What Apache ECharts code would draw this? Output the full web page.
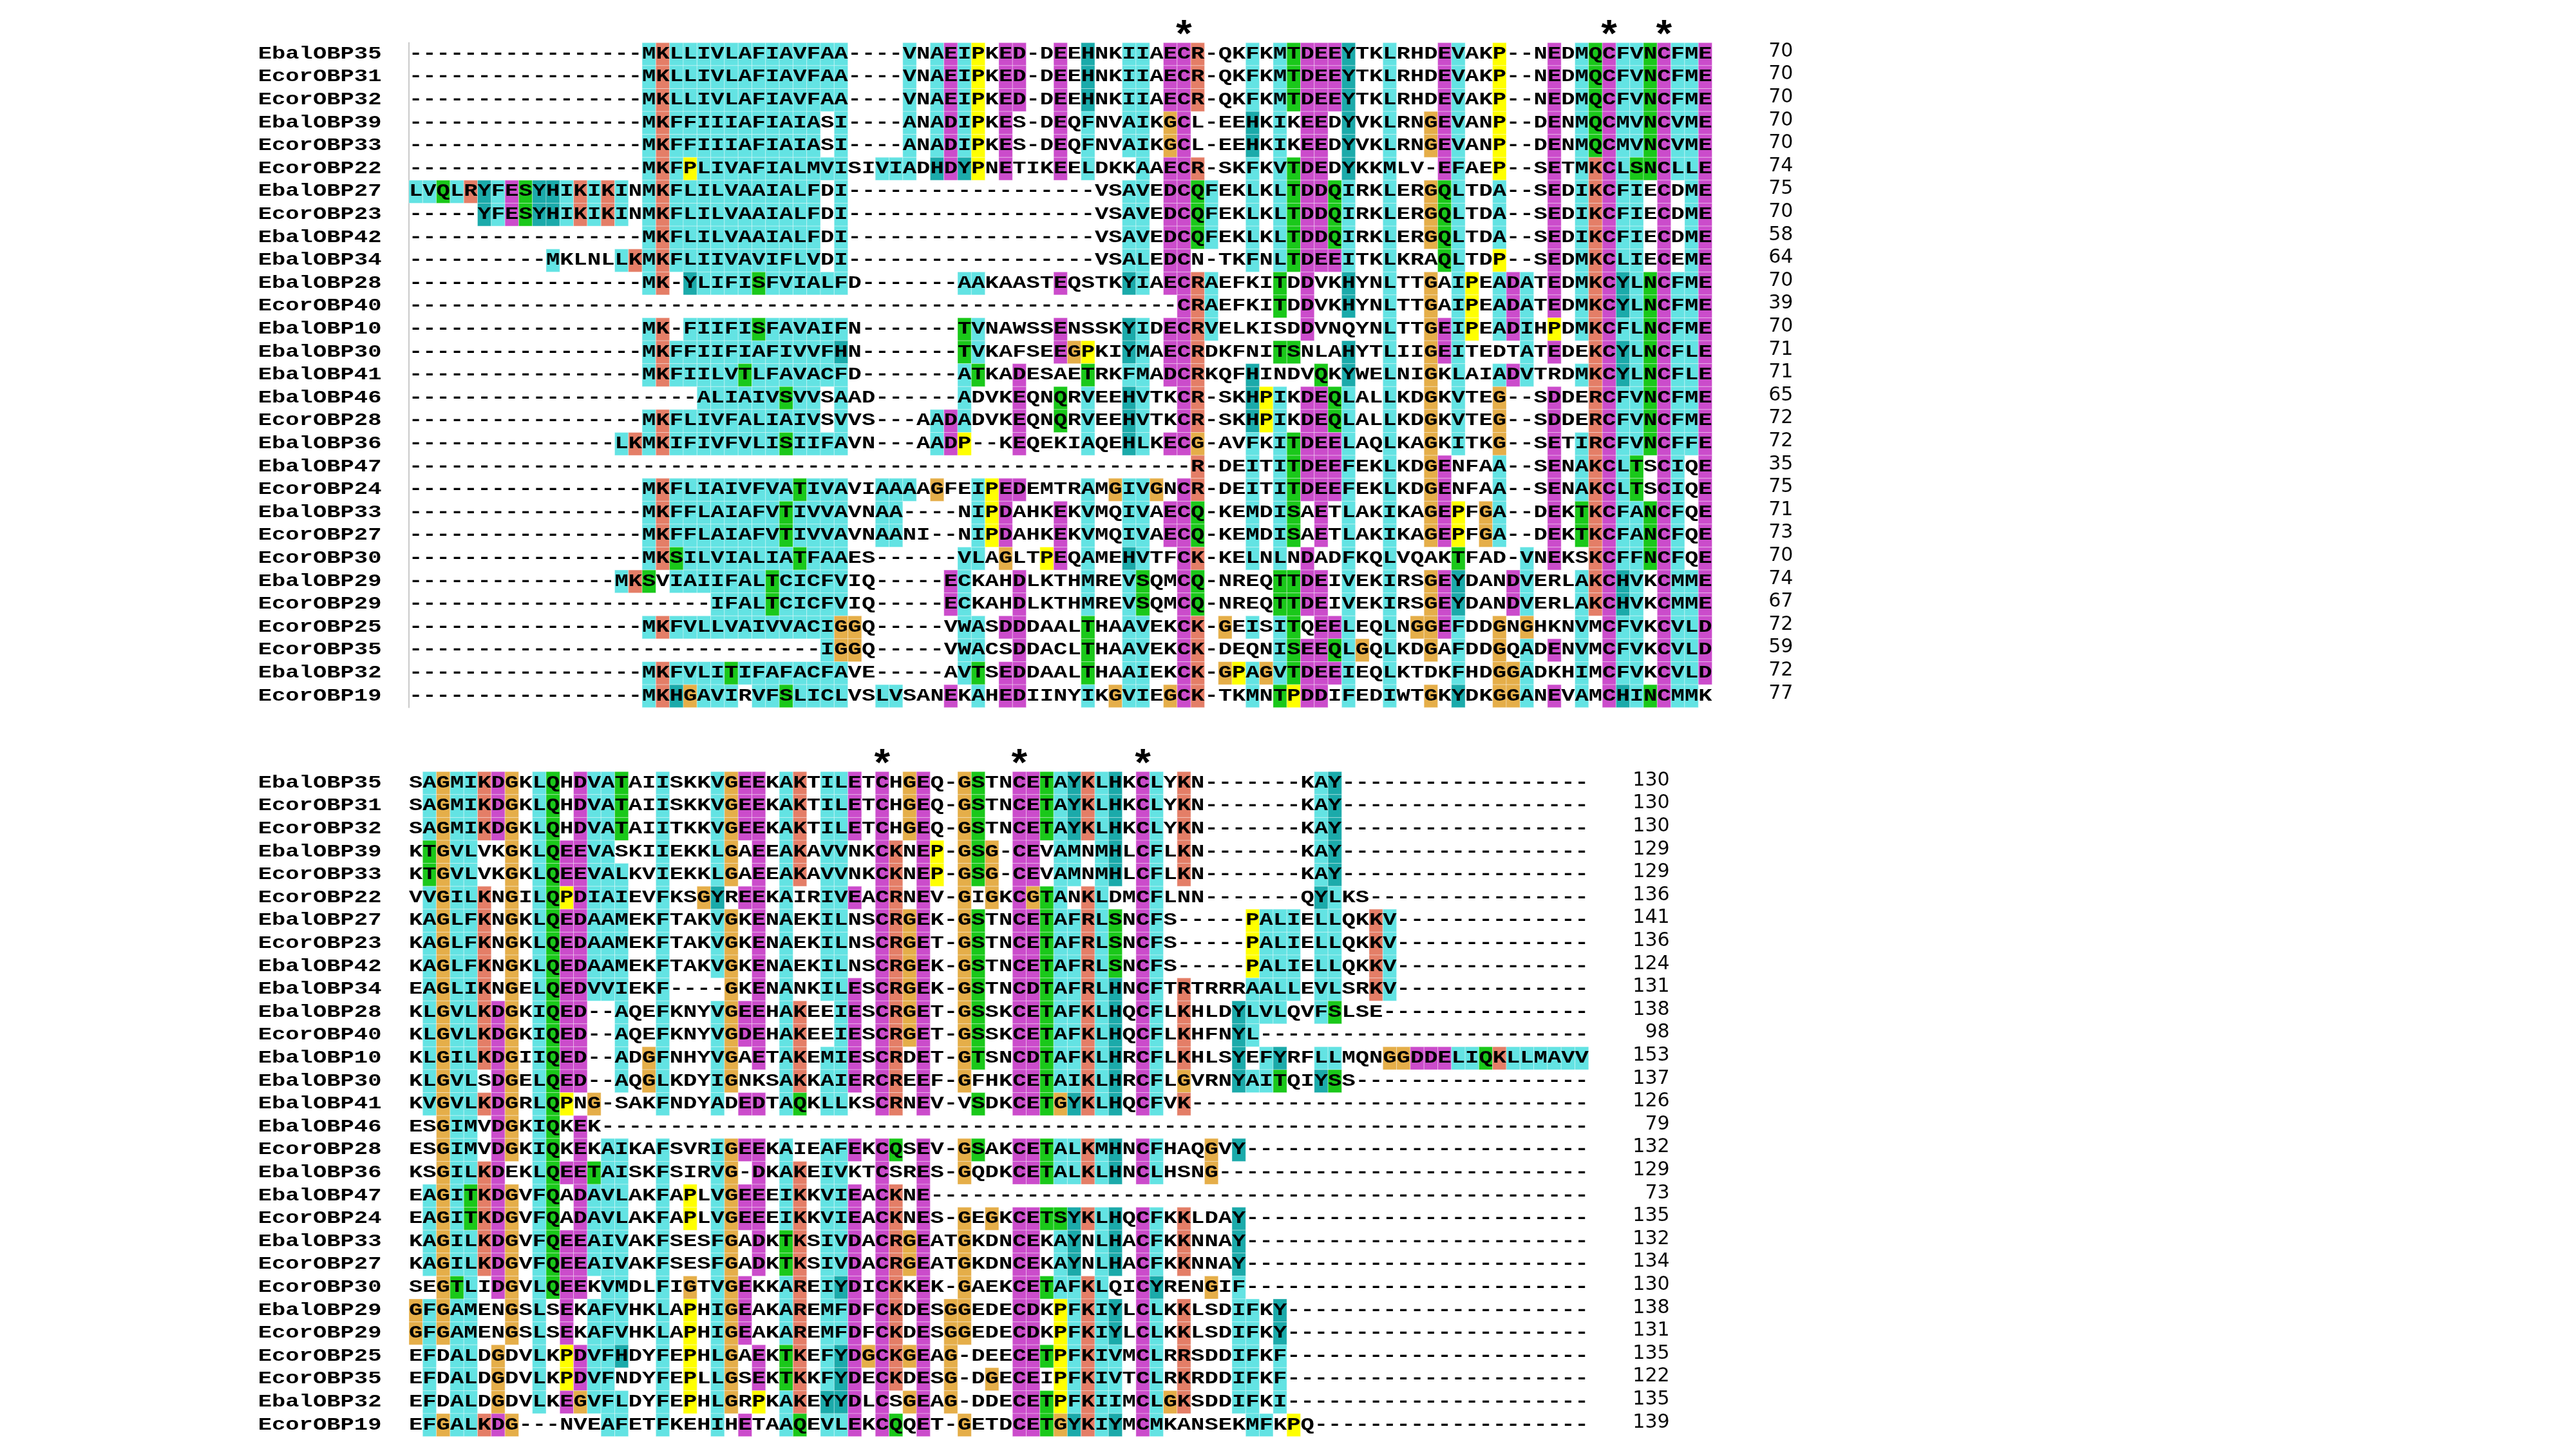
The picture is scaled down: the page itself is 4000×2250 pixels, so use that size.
<!DOCTYPE html>
<html>
<head>
<meta charset="utf-8">
<script src="https://cdn.jsdelivr.net/npm/echarts@6/dist/echarts.min.js"></script>
<style>
html,body{margin:0;padding:0;background:#ffffff;}
#chart{width:4000px;height:2250px;}
</style>
</head>
<body>
<div id="chart"></div>
<script>
// ---------------- DATA ----------------
const names = ['EbalOBP35','EcorOBP31','EcorOBP32','EbalOBP39','EcorOBP33','EcorOBP22','EbalOBP27','EcorOBP23','EbalOBP42','EbalOBP34','EbalOBP28','EcorOBP40','EbalOBP10','EbalOBP30','EbalOBP41','EbalOBP46','EcorOBP28','EbalOBP36','EbalOBP47','EcorOBP24','EbalOBP33','EcorOBP27','EcorOBP30','EbalOBP29','EcorOBP29','EcorOBP25','EcorOBP35','EbalOBP32','EcorOBP19'];

// numbers = runs of gap characters, strings = residues
const block1Segments = [
  [17,'MKLLIVLAFIAVFAA',4,'VNAEIPKED',1,'DEEHNKIIAECR',1,'QKFKMTDEEYTKLRHDEVAKP',2,'NEDMQCFVNCFME'],
  [17,'MKLLIVLAFIAVFAA',4,'VNAEIPKED',1,'DEEHNKIIAECR',1,'QKFKMTDEEYTKLRHDEVAKP',2,'NEDMQCFVNCFME'],
  [17,'MKLLIVLAFIAVFAA',4,'VNAEIPKED',1,'DEEHNKIIAECR',1,'QKFKMTDEEYTKLRHDEVAKP',2,'NEDMQCFVNCFME'],
  [17,'MKFFIIIAFIAIASI',4,'ANADIPKES',1,'DEQFNVAIKGCL',1,'EEHKIKEEDYVKLRNGEVANP',2,'DENMQCMVNCVME'],
  [17,'MKFFIIIAFIAIASI',4,'ANADIPKES',1,'DEQFNVAIKGCL',1,'EEHKIKEEDYVKLRNGEVANP',2,'DENMQCMVNCVME'],
  [17,'MKFPLIVAFIALMVISIVIADHDYPNETIKEELDKKAAECR',1,'SKFKVTDEDYKKMLV',1,'EFAEP',2,'SETMKCLSNCLLE'],
  ['LVQLRYFESYHIKIKINMKFLILVAAIALFDI',18,'VSAVEDCQFEKLKLTDDQIRKLERGQLTDA',2,'SEDIKCFIECDME'],
  [5,'YFESYHIKIKINMKFLILVAAIALFDI',18,'VSAVEDCQFEKLKLTDDQIRKLERGQLTDA',2,'SEDIKCFIECDME'],
  [17,'MKFLILVAAIALFDI',18,'VSAVEDCQFEKLKLTDDQIRKLERGQLTDA',2,'SEDIKCFIECDME'],
  [10,'MKLNLLKMKFLIIVAVIFLVDI',18,'VSALEDCN',1,'TKFNLTDEEITKLKRAQLTDP',2,'SEDMKCLIECEME'],
  [17,'MK',1,'YLIFISFVIALFD',7,'AAKAASTEQSTKYIAECRAEFKITDDVKHYNLTTGAIPEADATEDMKCYLNCFME'],
  [56,'CRAEFKITDDVKHYNLTTGAIPEADATEDMKCYLNCFME'],
  [17,'MK',1,'FIIFISFAVAIFN',7,'TVNAWSSENSSKYIDECRVELKISDDVNQYNLTTGEIPEADIHPDMKCFLNCFME'],
  [17,'MKFFIIFIAFIVVFHN',7,'TVKAFSEEGPKIYMAECRDKFNITSNLAHYTLIIGEITEDTATEDEKCYLNCFLE'],
  [17,'MKFIILVTLFAVACFD',7,'ATKADESAETRKFMADCRKQFHINDVQKYWELNIGKLAIADVTRDMKCYLNCFLE'],
  [21,'ALIAIVSVVSAAD',6,'ADVKEQNQRVEEHVTKCR',1,'SKHPIKDEQLALLKDGKVTEG',2,'SDDERCFVNCFME'],
  [17,'MKFLIVFALIAIVSVVS',3,'AADADVKEQNQRVEEHVTKCR',1,'SKHPIKDEQLALLKDGKVTEG',2,'SDDERCFVNCFME'],
  [15,'LKMKIFIVFVLISIIFAVN',3,'AADP',2,'KEQEKIAQEHLKECG',1,'AVFKITDEELAQLKAGKITKG',2,'SETIRCFVNCFFE'],
  [57,'R',1,'DEITITDEEFEKLKDGENFAA',2,'SENAKCLTSCIQE'],
  [17,'MKFLIAIVFVATIVAVIAAAAGFEIPEDEMTRAMGIVGNCR',1,'DEITITDEEFEKLKDGENFAA',2,'SENAKCLTSCIQE'],
  [17,'MKFFLAIAFVTIVVAVNAA',4,'NIPDAHKEKVMQIVAECQ',1,'KEMDISAETLAKIKAGEPFGA',2,'DEKTKCFANCFQE'],
  [17,'MKFFLAIAFVTIVVAVNAANI',2,'NIPDAHKEKVMQIVAECQ',1,'KEMDISAETLAKIKAGEPFGA',2,'DEKTKCFANCFQE'],
  [17,'MKSILVIALIATFAAES',6,'VLAGLTPEQAMEHVTFCK',1,'KELNLNDADFKQLVQAKTFAD',1,'VNEKSKCFFNCFQE'],
  [15,'MKSVIAIIFALTCICFVIQ',5,'ECKAHDLKTHMREVSQMCQ',1,'NREQTTDEIVEKIRSGEYDANDVERLAKCHVKCMME'],
  [22,'IFALTCICFVIQ',5,'ECKAHDLKTHMREVSQMCQ',1,'NREQTTDEIVEKIRSGEYDANDVERLAKCHVKCMME'],
  [17,'MKFVLLVAIVVACIGGQ',5,'VWASDDDAALTHAAVEKCK',1,'GEISITQEELEQLNGGEFDDGNGHKNVMCFVKCVLD'],
  [30,'IGGQ',5,'VWACSDDACLTHAAVEKCK',1,'DEQNISEEQLGQLKDGAFDDGQADENVMCFVKCVLD'],
  [17,'MKFVLITIFAFACFAVE',5,'AVTSEDDAALTHAAIEKCK',1,'GPAGVTDEEIEQLKTDKFHDGGADKHIMCFVKCVLD'],
  [17,'MKHGAVIRVFSLICLVSLVSANEKAHEDIINYIKGVIEGCK',1,'TKMNTPDDIFEDIWTGKYDKGGANEVAMCHINCMMK']
];

const block2Segments = [
  ['SAGMIKDGKLQHDVATAIISKKVGEEKAKTILETCHGEQ',1,'GSTNCETAYKLHKCLYKN',7,'KAY',18],
  ['SAGMIKDGKLQHDVATAIISKKVGEEKAKTILETCHGEQ',1,'GSTNCETAYKLHKCLYKN',7,'KAY',18],
  ['SAGMIKDGKLQHDVATAIITKKVGEEKAKTILETCHGEQ',1,'GSTNCETAYKLHKCLYKN',7,'KAY',18],
  ['KTGVLVKGKLQEEVASKIIEKKLGAEEAKAVVNKCKNEP',1,'GSG',1,'CEVAMNMHLCFLKN',7,'KAY',18],
  ['KTGVLVKGKLQEEVALKVIEKKLGAEEAKAVVNKCKNEP',1,'GSG',1,'CEVAMNMHLCFLKN',7,'KAY',18],
  ['VVGILKNGILQPDIAIEVFKSGYREEKAIRIVEACRNEV',1,'GIGKCGTANKLDMCFLNN',7,'QYLKS',16],
  ['KAGLFKNGKLQEDAAMEKFTAKVGKENAEKILNSCRGEK',1,'GSTNCETAFRLSNCFS',5,'PALIELLQKKV',14],
  ['KAGLFKNGKLQEDAAMEKFTAKVGKENAEKILNSCRGET',1,'GSTNCETAFRLSNCFS',5,'PALIELLQKKV',14],
  ['KAGLFKNGKLQEDAAMEKFTAKVGKENAEKILNSCRGEK',1,'GSTNCETAFRLSNCFS',5,'PALIELLQKKV',14],
  ['EAGLIKNGELQEDVVIEKF',4,'GKENANKILESCRGEK',1,'GSTNCDTAFRLHNCFTRTRRRAALLEVLSRKV',14],
  ['KLGVLKDGKIQED',2,'AQEFKNYVGEEHAKEEIESCRGET',1,'GSSKCETAFKLHQCFLKHLDYLVLQVFSLSE',15],
  ['KLGVLKDGKIQED',2,'AQEFKNYVGDEHAKEEIESCRGET',1,'GSSKCETAFKLHQCFLKHFNYL',24],
  ['KLGILKDGIIQED',2,'ADGFNHYVGAETAKEMIESCRDET',1,'GTSNCDTAFKLHRCFLKHLSYEFYRFLLMQNGGDDELIQKLLMAVV'],
  ['KLGVLSDGELQED',2,'AQGLKDYIGNKSAKKAIERCREEF',1,'GFHKCETAIKLHRCFLGVRNYAITQIYSS',17],
  ['KVGVLKDGRLQPNG',1,'SAKFNDYADEDTAQKLLKSCRNEV',1,'VSDKCETGYKLHQCFVK',29],
  ['ESGIMVDGKIQKEK',72],
  ['ESGIMVDGKIQKEKAIKAFSVRIGEEKAIEAFEKCQSEV',1,'GSAKCETALKMHNCFHAQGVY',25],
  ['KSGILKDEKLQEETAISKFSIRVG',1,'DKAKEIVKTCSRES',1,'GQDKCETALKLHNCLHSNG',27],
  ['EAGITKDGVFQADAVLAKFAPLVGEEEIKKVIEACKNE',48],
  ['EAGITKDGVFQADAVLAKFAPLVGEEEIKKVIEACKNES',1,'GEGKCETSYKLHQCFKKLDAY',25],
  ['KAGILKDGVFQEEAIVAKFSESFGADKTKSIVDACRGEATGKDNCEKAYNLHACFKKNNAY',25],
  ['KAGILKDGVFQEEAIVAKFSESFGADKTKSIVDACRGEATGKDNCEKAYNLHACFKKNNAY',25],
  ['SEGTLIDGVLQEEKVMDLFIGTVGEKKAREIYDICKKEK',1,'GAEKCETAFKLQICYRENGIF',25],
  ['GFGAMENGSLSEKAFVHKLAPHIGEAKAREMFDFCKDESGGEDECDKPFKIYLCLKKLSDIFKY',22],
  ['GFGAMENGSLSEKAFVHKLAPHIGEAKAREMFDFCKDESGGEDECDKPFKIYLCLKKLSDIFKY',22],
  ['EFDALDGDVLKPDVFHDYFEPHLGAEKTKEFYDGCKGEAG',1,'DEECETPFKIVMCLRRSDDIFKF',22],
  ['EFDALDGDVLKPDVFNDYFEPLLGSEKTKKFYDECKDESG',1,'DGECEIPFKIVTCLRKRDDIFKF',22],
  ['EFDALDGDVLKEGVFLDYFEPHLGRPKAKEYYDLCSGEAG',1,'DDECETPFKIIMCLGKSDDIFKI',22],
  ['EFGALKDG',3,'NVEAFETFKEHIHETAAQEVLEKCQQET',1,'GETDCETGYKIYMCMKANSEKMFKPQ',20]
];

const counts1 = [70,70,70,70,70,74,75,70,58,64,70,39,70,71,71,65,72,72,35,75,71,73,70,74,67,72,59,72,77];
const counts2 = [130,130,130,129,129,136,141,136,124,131,138,98,153,137,126,79,132,129,73,135,132,134,130,138,131,135,122,135,139];

const stars1 = [56,87,91];
const stars2 = [34,44,53];

// ---------------- STYLE ----------------
const PAL = {
  BLUE:'#63e3e3', CYAN:'#1baaaa', RED:'#e47e67', PINK:'#cb4ccb',
  MAGENTA:'#cb4ccb', GREEN:'#1ac81a', ORANGE:'#e5ae49', YELLOW:'#ffff00'
};
const FS = 27;
const SX = 1.315;
const FONT_B = 'bold ' + FS + 'px "Liberation Mono", "DejaVu Sans Mono", monospace';
const FONT_NUM = '30px "DejaVu Sans", "Liberation Sans", sans-serif';
const STAR_FS = 60;
const TY = 0;

// ---------------- helpers ----------------
function expand(segs){
  return segs.map(function(row){
    return row.map(function(s){ return typeof s === 'number' ? '-'.repeat(s) : s; }).join('');
  });
}
const seq1 = expand(block1Segments);
const seq2 = expand(block2Segments);
const L1 = seq1[0].length, L2 = seq2[0].length;
const NR = names.length;

// Clustal X style column-dependent colouring
function clustalColours(seqs){
  const L = seqs[0].length;
  const out = seqs.map(function(){ return new Array(L).fill(null); });
  for (let c = 0; c < L; c++){
    const cnt = {}; let tot = 0;
    seqs.forEach(function(s){
      const ch = s[c];
      if (ch === '-' || ch === undefined) return;
      cnt[ch] = (cnt[ch] || 0) + 1; tot++;
    });
    if (!tot) continue;
    const pct = function(set){ let k = 0; for (const ch of set) k += (cnt[ch] || 0); return k * 100 / tot; };
    const HY = 'WLVIMAFCYHP';
    const K = {
      '%': pct(HY) >= 60, '#': pct(HY) >= 80, '-': pct('ED') >= 50, '+': pct('KR') >= 60,
      'g': pct('G') >= 50, 'n': pct('N') >= 50, 'q': pct('QE') >= 50, 'p': pct('P') >= 50, 't': pct('TS') >= 50
    };
    for (const r of 'ACDEFGHIKLMNPQRSTVWY') K[r] = pct(r) >= 85;
    const any = function(list){ return list.split(':').some(function(k){ return K[k]; }); };
    const hyd = '%:#:A:C:F:H:I:L:M:V:W:Y:P:p';
    seqs.forEach(function(s, r){
      const ch = s[c];
      let col = null;
      switch (ch){
        case 'G': col = PAL.ORANGE; break;
        case 'P': col = PAL.YELLOW; break;
        case 'T': col = any('t:S:T:%:#') ? PAL.GREEN : null; break;
        case 'S': col = any('t:S:T:#') ? PAL.GREEN : null; break;
        case 'N': col = any('n:N:D') ? PAL.GREEN : null; break;
        case 'Q': col = any('q:Q:E:+:K:R') ? PAL.GREEN : null; break;
        case 'W': case 'L': case 'V': case 'I': case 'M': case 'F':
          col = any(hyd) ? PAL.BLUE : null; break;
        case 'A': col = any(hyd + ':T:S:G') ? PAL.BLUE : null; break;
        case 'C': col = K['C'] ? PAL.PINK : (any('%:#:A:F:H:I:L:M:V:W:Y:S:P:p') ? PAL.BLUE : null); break;
        case 'H': case 'Y': col = any(hyd) ? PAL.CYAN : null; break;
        case 'E': col = any('-:D:E:q:Q') ? PAL.MAGENTA : null; break;
        case 'D': col = any('-:D:E:n:N') ? PAL.MAGENTA : null; break;
        case 'K': case 'R': col = any('+:K:R:Q') ? PAL.RED : null; break;
      }
      out[r][c] = col;
    });
  }
  return out;
}
const col1 = clustalColours(seq1);
const col2 = clustalColours(seq2);

function cellData(seqs){
  const d = [];
  seqs.forEach(function(s, r){ for (let c = 0; c < s.length; c++) d.push([c, r]); });
  return d;
}

function cellRender(seqs, cols){
  return function(params, api){
    const c = api.value(0), r = api.value(1);
    const ch = seqs[r][c];
    const fill = cols[r][c];
    const p = api.coord([c, r]);
    const sz = api.size([1, 1]);
    const kids = [];
    if (fill){
      kids.push({type:'rect', shape:{x:p[0], y:p[1], width:sz[0], height:sz[1]},
        style:{fill:fill, stroke:'rgba(255,255,255,0.35)', lineWidth:1}});
    }
    kids.push({type:'text', x:p[0] + sz[0]/2, y:p[1] + sz[1]/2 + TY, scaleX:SX,
      style:{text:ch, font:FONT_B, fill:'#000000', align:'center', verticalAlign:'middle',
             textAlign:'center', textVerticalAlign:'middle'}});
    return {type:'group', children:kids};
  };
}

function nameRender(params, api){
  const r = api.value(1);
  const p = api.coord([-11, r + 0.5]);
  return {type:'text', x:p[0], y:p[1] + TY, scaleX:SX,
    style:{text:names[r], font:FONT_B, fill:'#000000', align:'left', verticalAlign:'middle',
           textAlign:'left', textVerticalAlign:'middle'}};
}

function countRender(counts, L){
  return function(params, api){
    const r = api.value(1);
    const p = api.coord([L + 6, r + 0.5]);
    return {type:'text', x:p[0] - 2, y:p[1] - 4,
      style:{text:String(counts[r]), font:FONT_NUM, fill:'#0a0a0a', align:'right', verticalAlign:'middle',
             textAlign:'right', textVerticalAlign:'middle'}};
  };
}

function starRender(params, api){
  const c = api.value(0);
  const p = api.coord([c + 0.5, -0.5]);
  return {type:'text', x:p[0], y:p[1] + 0.26 * STAR_FS - 5, scaleX:1.05,
    style:{text:'*', font:'bold ' + STAR_FS + 'px "Liberation Mono", monospace', fill:'#000000',
           align:'center', verticalAlign:'middle', textAlign:'center', textVerticalAlign:'middle'}};
}

const PITCH_X = 21.3, PITCH_Y = 35.6, LEFT = 635;
const rowIdx = names.map(function(n, i){ return [0, i]; });

const option = {
  backgroundColor:'#ffffff',
  animation:false,
  grid:[
    {left:LEFT, top:66.3, width:L1 * PITCH_X, height:NR * PITCH_Y},
    {left:LEFT, top:1198.2, width:L2 * PITCH_X, height:NR * PITCH_Y}
  ],
  xAxis:[
    {gridIndex:0, type:'value', min:0, max:L1, show:false},
    {gridIndex:1, type:'value', min:0, max:L2, show:false}
  ],
  yAxis:[
    {gridIndex:0, type:'value', min:0, max:NR, inverse:true,
      axisLine:{show:true, onZero:false, lineStyle:{color:'#b9b9b9', width:1.5}},
      axisTick:{show:false}, axisLabel:{show:false}, splitLine:{show:false}},
    {gridIndex:1, type:'value', min:0, max:NR, inverse:true, show:false}
  ],
  series:[
    {type:'custom', xAxisIndex:0, yAxisIndex:0, data:cellData(seq1), renderItem:cellRender(seq1, col1), encode:{x:0, y:1}, silent:true},
    {type:'custom', xAxisIndex:1, yAxisIndex:1, data:cellData(seq2), renderItem:cellRender(seq2, col2), encode:{x:0, y:1}, silent:true},
    {type:'custom', xAxisIndex:0, yAxisIndex:0, data:rowIdx, renderItem:nameRender, encode:{x:0, y:1}, silent:true},
    {type:'custom', xAxisIndex:1, yAxisIndex:1, data:rowIdx, renderItem:nameRender, encode:{x:0, y:1}, silent:true},
    {type:'custom', xAxisIndex:0, yAxisIndex:0, data:rowIdx, renderItem:countRender(counts1, L1), encode:{x:0, y:1}, silent:true},
    {type:'custom', xAxisIndex:1, yAxisIndex:1, data:rowIdx, renderItem:countRender(counts2, L2), encode:{x:0, y:1}, silent:true},
    {type:'custom', xAxisIndex:0, yAxisIndex:0, data:stars1.map(function(c){ return [c, 0]; }), renderItem:starRender, encode:{x:0, y:1}, silent:true},
    {type:'custom', xAxisIndex:1, yAxisIndex:1, data:stars2.map(function(c){ return [c, 0]; }), renderItem:starRender, encode:{x:0, y:1}, silent:true}
  ]
};

const chart = echarts.init(document.getElementById('chart'), null, {renderer:'canvas'});
chart.setOption(option);
</script>
</body>
</html>
